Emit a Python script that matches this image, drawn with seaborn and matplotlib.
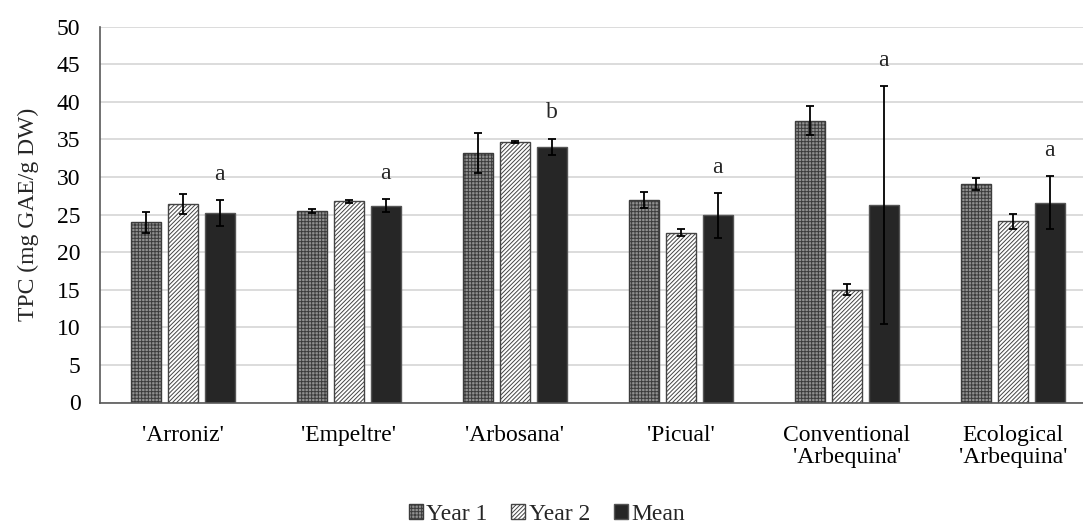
import numpy as np
import pandas as pd
import seaborn as sns
import matplotlib.pyplot as plt

cultivars = ["'Arroniz'", "'Empeltre'", "'Arbosana'", "'Picual'",
             "Conventional\n'Arbequina'", "Ecological\n'Arbequina'"]
series = ["Year 1", "Year 2", "Mean"]
year1 = [24.0, 25.5, 33.2, 26.9, 37.5, 29.1]
year2 = [26.4, 26.8, 34.7, 22.6, 15.0, 24.1]
mean = [25.2, 26.2, 34.0, 24.9, 26.3, 26.6]
year1_err = [1.4, 0.3, 2.7, 1.05, 1.9, 0.8]
year2_err = [1.3, 0.2, 0.15, 0.5, 0.7, 1.0]
mean_err = [1.75, 0.9, 1.1, 3.0, 15.8, 3.5]
letters = ["a", "a", "b", "a", "a", "a"]

df = pd.DataFrame({
    "cultivar": cultivars * 3,
    "serie": np.repeat(series, len(cultivars)),
    "tpc": year1 + year2 + mean,
})
errs = [year1_err, year2_err, mean_err]

sns.set_style("white")
plt.rcParams['font.family'] = ['Liberation Serif', 'DejaVu Serif']
plt.rcParams['hatch.linewidth'] = 0.7

fig = plt.figure(figsize=(10.83, 5.24), dpi=100)
ax = fig.add_axes([100 / 1083, 121.5 / 524, 996 / 1083, 375.8 / 524])

sns.barplot(data=df, x="cultivar", y="tpc", hue="serie", order=cultivars,
            hue_order=series, width=0.666, gap=0.2, errorbar=None, ax=ax,
            palette=["#9a9a9a", "white", "#262626"], legend=True)

styles = [("#909090", "#3c3c3c", "+++++"),
          ("white", "#444444", "////////"),
          ("#262626", "#555555", None)]
for cont, (fc, ec, h), err in zip(ax.containers, styles, errs):
    xs, ys = [], []
    for p in cont.patches:
        p.set_facecolor(fc)
        p.set_edgecolor(ec)
        p.set_linewidth(1.0)
        if h:
            p.set_hatch(h)
        xs.append(p.get_x() + p.get_width() / 2)
        ys.append(p.get_height())
    ax.errorbar(xs, ys, yerr=err, fmt="none", ecolor="black",
                elinewidth=1.3, capsize=3, capthick=1.3, zorder=5)

# significance letters above the mean bars
for cont in ax.containers[2:3]:
    for p, m, e, t in zip(cont.patches, mean, mean_err, letters):
        ax.text(p.get_x() + p.get_width() / 2, m + e + 2.7, t,
                ha="center", va="baseline", fontsize=17)

ax.set_xlim(-0.5, 5.5)
ax.set_ylim(0, 50)
ax.set_yticks(range(0, 51, 5))
ax.yaxis.grid(True, color="#d9d9d9", linewidth=1.3)
ax.set_axisbelow(True)
ax.tick_params(axis="both", length=0, labelsize=17, colors="black")
ax.tick_params(axis="x", pad=16)
ax.tick_params(axis="y", pad=14)
for lbl in ax.get_xticklabels():
    lbl.set_linespacing(1.05)
for s in ["top", "right"]:
    ax.spines[s].set_visible(False)
for s in ["left", "bottom"]:
    ax.spines[s].set_color("#595959")
    ax.spines[s].set_linewidth(1.2)
ax.set_xlabel("")
ax.set_ylabel("TPC (mg GAE/g DW)", fontsize=17, labelpad=13)

handles, labels = ax.get_legend_handles_labels()
ax.get_legend().remove()
for hd, (fc, ec, h) in zip(handles, styles):
    hd.set_facecolor(fc)
    hd.set_edgecolor(ec)
    if h:
        hd.set_hatch(h)
fig.legend(handles, labels, loc="lower center", bbox_to_anchor=(0.505, -0.042),
           ncol=3, frameon=False, fontsize=17, handlelength=0.6,
           handleheight=0.6, handletextpad=0.15, columnspacing=1.0)

fig.savefig("out.png", dpi=100)
